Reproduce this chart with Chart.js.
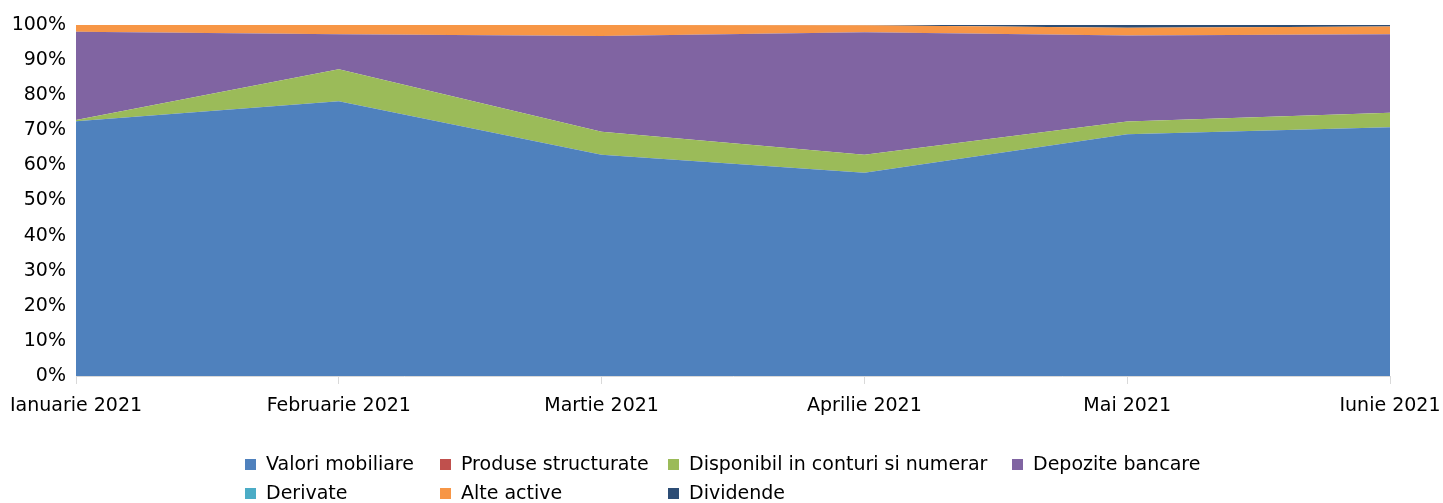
<!DOCTYPE html>
<html>
<head>
<meta charset="utf-8">
<script src="https://cdn.jsdelivr.net/npm/chart.js@4/dist/chart.umd.min.js"></script>
<style>
  html, body { margin: 0; padding: 0; background: #fff; }
  #wrap { position: relative; width: 1443px; height: 503px; }
  #legend { position: absolute; left: 0; top: 0; width: 1443px; height: 503px; pointer-events: none;
            font-family: 'DejaVu Sans', sans-serif; font-size: 19px; color: #000; }
  .item { position: absolute; white-space: nowrap; line-height: 22px; }
  .item span.box { display: inline-block; width: 11px; height: 11px; margin-right: 10px; vertical-align: 0px; }
</style>
</head>
<body>
<div id="wrap">
  <canvas id="chart" width="1443" height="503"></canvas>
  <div id="legend"></div>
</div>
<script>
// categories
const months = ['Ianuarie 2021', 'Februarie 2021', 'Martie 2021', 'Aprilie 2021', 'Mai 2021', 'Iunie 2021'];

// series (% of total assets), stacked bottom -> top
const valoriMobiliare     = [72.6, 78.3, 63.0, 57.9, 68.9, 70.9];
const produseStructurate  = [0, 0, 0, 0, 0, 0];
const disponibil          = [0.3, 9.1, 6.6, 5.1, 3.6, 4.1];
const depoziteBancare     = [25.2, 10.0, 27.3, 34.9, 24.5, 22.4];
const derivate            = [0, 0, 0, 0, 0, 0];
const alteActive          = [1.9, 2.6, 3.1, 2.0, 2.2, 2.2];
const dividende           = [0, 0, 0, 0.1, 0.8, 0.4];

const seriesNames  = ['Valori mobiliare', 'Produse structurate', 'Disponibil in conturi si numerar',
                      'Depozite bancare', 'Derivate', 'Alte active', 'Dividende'];
const seriesData   = [valoriMobiliare, produseStructurate, disponibil, depoziteBancare, derivate, alteActive, dividende];
const seriesColors = ['#4F81BD', '#C0504D', '#9BBB59', '#8064A2', '#4BACC6', '#F79646', '#2C4D75'];

const FONT = "'DejaVu Sans', sans-serif";

const datasets = seriesNames.map((name, i) => ({
    label: name,
    data: seriesData[i],
    backgroundColor: seriesColors[i],
    borderColor: seriesColors[i],
    borderWidth: 0,
    pointRadius: 0,
    tension: 0,
    fill: i === 0 ? 'origin' : '-1'
}));

new Chart(document.getElementById('chart'), {
    type: 'line',
    data: { labels: months, datasets },
    options: {
        responsive: false,
        animation: false,
        layout: { padding: { top: 25, right: 53, bottom: 0, left: 0 } },
        plugins: { legend: { display: false }, tooltip: { enabled: false } },
        scales: {
            x: {
                offset: false,
                grid: { display: true, drawOnChartArea: false, drawTicks: true, tickLength: 8, color: '#D9D9D9' },
                border: { display: true, color: '#D9D9D9' },
                ticks: { font: { family: FONT, size: 19 }, color: '#000', padding: 11, maxRotation: 0, autoSkip: false },
                afterFit: s => { s.height = 127; s.paddingLeft = 0; s.paddingRight = 0; }
            },
            y: {
                stacked: true,
                min: 0, max: 100,
                grid: { display: false, drawTicks: false },
                border: { display: false },
                ticks: { stepSize: 10, font: { family: FONT, size: 19 }, color: '#000', padding: 10,
                         callback: v => v + '%' },
                afterFit: s => { s.width = 76; }
            }
        }
    }
});

// legend laid out like the Excel grid (4 columns, 2 rows)
const legendCols = [245, 440, 668, 1012];
const legendRows = [452, 481];
const legendEl = document.getElementById('legend');
seriesNames.forEach((name, i) => {
    const el = document.createElement('div');
    el.className = 'item';
    el.style.left = legendCols[i % 4] + 'px';
    el.style.top = legendRows[Math.floor(i / 4)] + 'px';
    el.innerHTML = '<span class="box" style="background:' + seriesColors[i] + '"></span>' + name;
    legendEl.appendChild(el);
});
</script>
</body>
</html>
